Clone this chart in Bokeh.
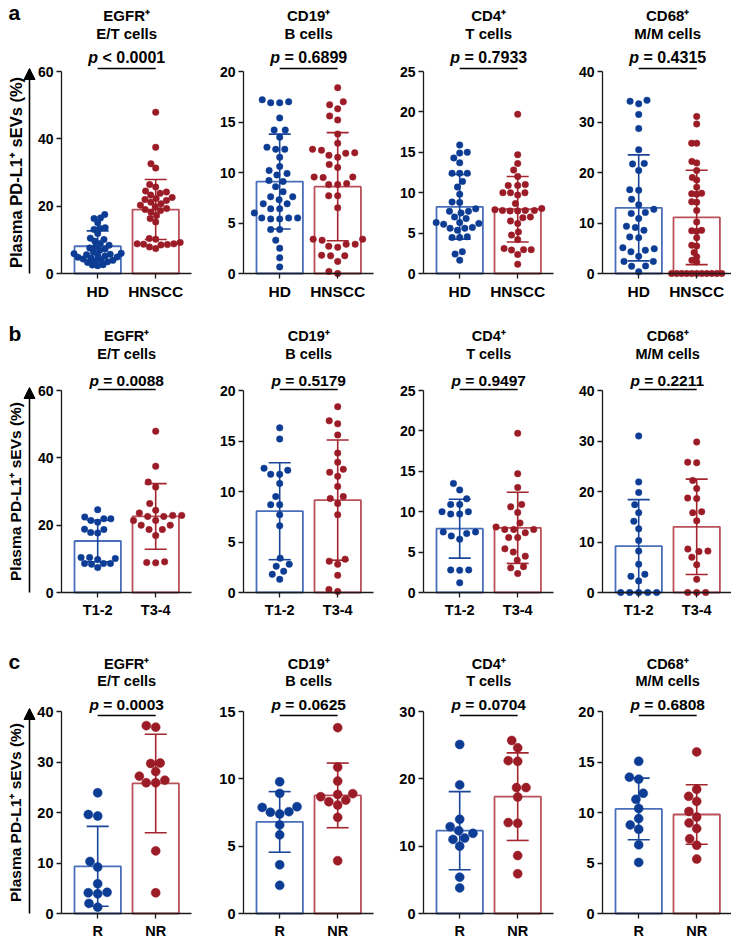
import math
from bokeh.plotting import figure
from bokeh.layouts import gridplot
from bokeh.models import Range1d, FixedTicker, Label, Arrow, NormalHead
from bokeh.embed import file_html
from bokeh.resources import INLINE

# ---------------- data ----------------
marker_titles = [["EGFR\u207a", "E/T cells"], ["CD19\u207a", "B cells"],
                 ["CD4\u207a", "T cells"], ["CD68\u207a", "M/M cells"]]
row_letters = ["a", "b", "c"]
row_groups = [["HD", "HNSCC"], ["T1-2", "T3-4"], ["R", "NR"]]
row_ymax = [[60, 20, 25, 40], [60, 20, 25, 40], [40, 15, 30, 20]]
row_ystep = [[20, 5, 5, 10], [20, 5, 5, 10], [10, 5, 10, 5]]
row_pvals = [["< 0.0001", "= 0.6899", "= 0.7933", "= 0.4315"],
             ["= 0.0088", "= 0.5179", "= 0.9497", "= 0.2211"],
             ["= 0.0003", "= 0.0625", "= 0.0704", "= 0.6808"]]
y_label = "Plasma PD-L1\u207a sEVs (%)"

# row a: HD vs HNSCC
a_egfr_hd = [17.5, 16.5, 16.3, 15.1, 13.6, 13.4, 13.1, 11.9, 10.5, 10.1, 9.6, 8.9, 8.4, 8.0,
             7.6, 7.3, 6.9, 6.4, 6.0, 5.9, 5.7, 5.6, 5.4, 5.2, 4.9, 4.8, 4.6, 4.3, 4.1, 3.9,
             3.8, 3.5, 3.3, 2.6, 2.5, 2.3]
a_egfr_hnscc = [47.9, 37.5, 32.6, 31.3, 26.4, 25.7, 24.5, 24.2, 23.8, 23.3, 22.6, 22.3, 22.0,
                21.7, 21.2, 20.7, 20.3, 19.8, 19.3, 19.0, 18.7, 18.2, 17.2, 16.3, 15.3, 10.4,
                10.2, 9.2, 8.8, 8.7, 8.6, 8.5, 8.8, 7.9, 7.4]
a_cd19_hd = [16.9, 17.0, 16.9, 17.2, 15.4, 14.2, 14.2, 13.5, 12.3, 12.5, 12.3, 11.5, 10.6, 10.2,
             9.75, 9.9, 9.1, 9.2, 8.6, 8.1, 7.6, 7.6, 7.3, 6.9, 6.9, 6.4, 6.4, 6.0, 5.5, 5.5,
             5.5, 5.4, 5.4, 4.35, 4.35, 3.3, 2.5, 1.55, 0.65]
a_cd19_hnscc = [18.4, 17.0, 16.7, 16.3, 15.6, 15.2, 13.8, 12.9, 12.3, 11.7, 11.95, 11.9, 12.2,
                11.5, 10.8, 10.5, 9.5, 9.55, 9.55, 8.9, 8.8, 8.8, 7.7, 7.7, 6.5, 3.4, 3.3, 3.4,
                2.9, 2.9, 2.6, 2.7, 1.75, 1.8, 1.75, 1.2, 0.2, 0.0]
a_cd4_hd = [15.9, 14.9, 15.0, 14.3, 13.7, 12.4, 12.4, 12.4, 11.4, 10.7, 9.8, 8.85, 8.8, 8.0,
            7.7, 7.7, 7.5, 7.0, 6.8, 6.3, 6.1, 6.2, 6.3, 5.6, 5.35, 5.6, 5.7, 4.45, 4.45, 4.55,
            2.7, 2.4, 1.65]
a_cd4_hnscc = [19.7, 14.7, 13.6, 12.8, 12.0, 10.9, 11.0, 10.9, 10.0, 10.0, 10.0, 9.7, 8.65,
               7.9, 7.8, 7.8, 7.75, 8.05, 7.8, 7.75, 6.9, 7.0, 6.5, 6.2, 5.15, 4.75, 4.2, 2.95,
               2.95, 3.1, 2.9, 2.35, 1.15]
a_cd68_hd = [34.3, 34.1, 33.6, 31.5, 28.7, 24.5, 21.7, 21.8, 20.4, 16.6, 16.5, 14.7, 13.6, 12.7,
             12.1, 11.9, 10.9, 9.35, 9.1, 8.55, 7.25, 7.1, 5.1, 4.9, 4.6, 4.3, 3.4, 2.4, 2.4,
             1.5, 1.45, 0.35]
a_cd68_hnscc = [31.1, 29.6, 25.8, 25.8, 22.2, 21.9, 20.4, 19.0, 18.5, 17.1, 15.9, 15.7, 15.8,
                14.2, 14.1, 12.5, 10.2, 8.55, 8.45, 8.35, 7.1, 5.6, 5.45, 4.15, 3.3, 2.6, 2.3,
                0, 0, 0, 0, 0, 0, 0, 0, 0, 0, 0]

# row b: T1-2 vs T3-4
b_egfr_t12 = [24.6, 22.4, 21.9, 21.4, 21.9, 20.9, 18.8, 17.7, 17.8, 18.7, 10.1, 10.4, 10.4,
              9.8, 8.6, 8.6, 8.4, 8.6, 7.4]
b_egfr_t34 = [47.9, 37.5, 32.8, 31.3, 26.4, 24.4, 22.9, 22.9, 22.6, 22.6, 23.6, 21.4, 21.4,
              20.0, 20.0, 18.7, 18.7, 16.9, 9.1, 8.9, 8.8]
b_cd19_t12 = [16.3, 15.2, 12.3, 12.1, 11.7, 11.7, 10.8, 9.5, 8.7, 8.7, 7.7, 6.6, 3.4, 2.8, 2.6,
              2.1, 1.8, 1.3]
b_cd19_t34 = [18.4, 17.0, 16.7, 15.6, 13.8, 12.9, 11.9, 12.2, 11.5, 10.5, 9.5, 9.3, 8.8, 7.7,
              3.1, 3.3, 2.8, 1.7, 0.3, 0.1]
b_cd4_t12 = [13.5, 12.7, 11.6, 10.9, 10.9, 10.0, 10.0, 9.7, 9.7, 7.5, 7.5, 7.0, 7.3, 6.6, 2.8,
             2.8, 2.75, 1.2]
b_cd4_t34 = [19.7, 14.7, 13.0, 10.9, 10.6, 9.9, 8.6, 8.1, 7.8, 7.8, 7.8, 7.4, 6.8, 6.8, 5.4,
             5.0, 4.5, 4.0, 3.2, 3.05, 2.35]
b_cd68_t12 = [31.0, 21.9, 19.8, 17.4, 15.8, 14.1, 12.6, 10.3, 8.2, 5.6, 3.2, 3.6, 2.3,
              0, 0, 0, 0, 0]
b_cd68_t34 = [29.8, 25.8, 25.7, 22.2, 20.6, 18.7, 18.6, 16.0, 15.8, 14.2, 8.6, 8.2, 8.1, 7.0,
              5.5, 2.6, 0, 0, 0]

# row c: R vs NR
c_egfr_r = [23.9, 19.6, 19.3, 10.3, 9.2, 5.9, 4.2, 4.1, 3.9, 2.0, 1.25]
c_egfr_nr = [36.9, 37.2, 29.7, 29.8, 28.1, 26.4, 25.9, 25.9, 27.2, 12.4, 4.1]
c_cd19_r = [9.78, 8.92, 7.93, 7.88, 7.52, 7.39, 7.56, 6.58, 5.84, 3.62, 2.09]
c_cd19_nr = [13.8, 10.87, 9.83, 8.9, 8.84, 8.42, 8.3, 8.05, 8.67, 7.14, 3.92]
c_cd4_r = [25.1, 19.1, 14.0, 12.9, 11.9, 11.2, 11.0, 12.3, 10.0, 5.4, 3.8]
c_cd4_nr = [25.7, 24.6, 22.7, 22.6, 18.7, 18.7, 17.3, 13.5, 13.4, 8.6, 5.9]
c_cd68_r = [15.07, 13.5, 13.3, 11.9, 11.3, 10.4, 9.4, 8.77, 8.34, 6.8, 5.06]
c_cd68_nr = [16.0, 12.3, 11.6, 11.1, 10.1, 9.56, 8.97, 8.41, 7.39, 6.76, 5.39]

# bar heights (mean) and error bars (SD)
a_means = [[8.1, 19.0], [9.1, 8.6], [8.25, 7.95], [13.0, 11.1]]
a_sds = [[4.55, 8.9], [4.7, 5.35], [4.0, 4.05], [10.5, 9.35]]
b_means = [[15.3, 22.6], [8.05, 9.15], [7.9, 8.0], [9.2, 13.0]]
b_sds = [[6.15, 9.75], [4.8, 5.95], [3.65, 4.4], [9.2, 9.45]]
c_means = [[9.35, 25.75], [6.8, 8.77], [12.3, 17.35], [10.35, 9.8]]
c_sds = [[7.9, 9.75], [2.25, 2.4], [5.8, 6.5], [3.05, 2.95]]

row_points = [
    [[a_egfr_hd, a_egfr_hnscc], [a_cd19_hd, a_cd19_hnscc], [a_cd4_hd, a_cd4_hnscc], [a_cd68_hd, a_cd68_hnscc]],
    [[b_egfr_t12, b_egfr_t34], [b_cd19_t12, b_cd19_t34], [b_cd4_t12, b_cd4_t34], [b_cd68_t12, b_cd68_t34]],
    [[c_egfr_r, c_egfr_nr], [c_cd19_r, c_cd19_nr], [c_cd4_r, c_cd4_nr], [c_cd68_r, c_cd68_nr]],
]
row_means = [a_means, b_means, c_means]
row_sds = [a_sds, b_sds, c_sds]

# ---------------- style / layout ----------------
FONT = "Liberation Sans"
DOT_COLORS = ["#0c3c94", "#9b1c27"]
BAR_COLORS = ["#4a6fba", "#b9505a"]
ERR_COLORS = ["#1a4699", "#a3262f"]
AXIS_COLOR = "#1a1a1a"

PXX = 58.0                 # px per category unit
XA = -0.4 - 13 / PXX       # where the y axis sits (data x)
XE = 1.4 + 13 / PXX        # end of the x axis line
DATA_H = 202

col_width = [203, 180, 179, 169]
col_axis_px = [61, 40, 40, 40]          # y-axis position inside each figure (px)
row_height = [320, 325, 297]
row_above = [71, 70, 66]                # px from figure top to the top tick
row_title_off = [(56, 38), (55, 37), (48, 31)]
row_p_off = [14, 10, 7]
row_line_off = [3, 1, -4]
row_letter_off = [59, 57, 50]
row_dot = [6.5, 6.5, 9.0]
row_D = [9.0, 9.0, 9.5]
row_title_fs = [15, 14.5, 14.5]
row_p_fs = [16, 15.5, 15.5]
row_tick_fs = [14, 14, 14.5]
row_cat_fs = [15.5, 14.5, 14.5]
row_ylab_fs = [16.5, 15.5, 15.5]

CHAR_W = {"0": 556, "1": 556, "2": 556, "3": 556, "4": 556, "5": 556, "6": 556, "7": 556,
          "8": 556, "9": 556, ".": 278, " ": 278, "=": 584, "<": 584, "p": 611}


def text_w(s, fs):
    return sum(CHAR_W.get(ch, 556) for ch in s) / 1000.0 * fs


def swarm(vals, ymax, D, maxw=26.0):
    """Beeswarm offsets (in data x units) so dots do not overlap."""
    pyy = DATA_H / ymax
    order = sorted(range(len(vals)), key=lambda i: vals[i])
    d = D
    while True:
        placed = []
        xs = [0.0] * len(vals)
        for i in order:
            y = vals[i] * pyy
            ivs = []
            for (xj, yj) in placed:
                dyy = abs(y - yj)
                if dyy < d:
                    w = math.sqrt(d * d - dyy * dyy)
                    ivs.append((xj - w, xj + w))
            cands = [0.0] + [a for a, b in ivs] + [b for a, b in ivs]
            cands.sort(key=lambda c: (abs(c), c))
            x = 0.0
            for c in cands:
                if all(not (a + 1e-6 < c < b - 1e-6) for a, b in ivs):
                    x = c
                    break
            placed.append((x, y))
            xs[i] = x
        if max(abs(v) for v in xs) <= maxw or d < 3:
            return [v / PXX for v in xs]
        d *= 0.92


def make_panel(r, c):
    ymax = row_ymax[r][c]
    pyy = DATA_H / ymax

    def dy(px):
        return px / pyy

    W = col_width[c]
    H = row_height[r]
    left = col_axis_px[c]
    above = row_above[r]
    below = H - above - DATA_H
    p = figure(width=W, height=H,
               x_range=Range1d(XA - left / PXX, XA + (W - left) / PXX),
               y_range=Range1d(-dy(below), ymax + dy(above)),
               output_backend="svg", toolbar_location=None, tools="",
               min_border=0, min_border_left=0, min_border_right=0,
               min_border_top=0, min_border_bottom=0)
    p.outline_line_color = None
    p.xgrid.visible = False
    p.ygrid.visible = False
    p.background_fill_color = "white"
    p.border_fill_color = "white"

    # axes (placed at fixed data locations inside the frame)
    yax = p.yaxis[0]
    yax.fixed_location = XA
    yax.bounds = (0, ymax)
    yax.ticker = FixedTicker(ticks=list(range(0, ymax + 1, row_ystep[r][c])))
    xax = p.xaxis[0]
    xax.fixed_location = 0
    xax.bounds = (XA, XE)
    xax.ticker = FixedTicker(ticks=[0, 1])
    xax.major_label_overrides = {0: row_groups[r][0], 1: row_groups[r][1]}
    for ax, fs, so in ((yax, row_tick_fs[r], 3), (xax, row_cat_fs[r], 4)):
        ax.axis_line_color = AXIS_COLOR
        ax.axis_line_width = 1.3
        ax.major_tick_line_color = AXIS_COLOR
        ax.major_tick_line_width = 1.3
        ax.major_tick_out = 5
        ax.major_tick_in = 0
        ax.minor_tick_line_color = None
        ax.major_label_text_font = FONT
        ax.major_label_text_font_style = "bold"
        ax.major_label_text_font_size = f"{fs}px"
        ax.major_label_text_color = "black"
        ax.major_label_standoff = so

    means = row_means[r][c]
    sds = row_sds[r][c]
    # bars
    p.vbar(x=[0, 1], top=means, width=0.8, bottom=0, fill_color="white",
           line_color=BAR_COLORS, line_width=1.8)
    # error bars (mean +/- SD)
    cw = 11.0 / PXX
    for g in range(2):
        lo = max(means[g] - sds[g], 0)
        hi = means[g] + sds[g]
        p.segment(x0=[g, g - cw, g - cw], y0=[lo, hi, lo], x1=[g, g + cw, g + cw], y1=[hi, hi, lo],
                  line_color=ERR_COLORS[g], line_width=1.6)
    # individual points
    for g in range(2):
        vals = row_points[r][c][g]
        offs = swarm(vals, ymax, row_D[r])
        p.scatter(x=[g + o for o in offs], y=vals, size=row_dot[r], marker="circle",
                  fill_color=DOT_COLORS[g], line_color=DOT_COLORS[g], line_width=0.5)

    # titles
    t1, t2 = marker_titles[c]
    o1, o2 = row_title_off[r]
    for txt, off in ((t1, o1), (t2, o2)):
        p.add_layout(Label(x=0.5, y=ymax + dy(off), text=txt, text_align="center",
                           text_baseline="middle", text_font=FONT, text_font_style="bold",
                           text_font_size=f"{row_title_fs[r]}px", text_color="black"))
    # p value with comparison bar
    pfs = row_p_fs[r]
    rest = row_pvals[r][c]
    wp = text_w("p ", pfs)
    wtot = wp + text_w(rest, pfs)
    yp = ymax + dy(row_p_off[r])
    p.add_layout(Label(x=0.5, y=yp, x_offset=-wtot / 2, text="p", text_align="left",
                       text_baseline="middle", text_font=FONT, text_font_style="bold italic",
                       text_font_size=f"{pfs}px", text_color="black"))
    p.add_layout(Label(x=0.5, y=yp, x_offset=-wtot / 2 + wp, text=rest, text_align="left",
                       text_baseline="middle", text_font=FONT, text_font_style="bold",
                       text_font_size=f"{pfs}px", text_color="black"))
    yl = ymax + dy(row_line_off[r])
    p.segment(x0=[0], y0=[yl], x1=[1], y1=[yl], line_color="black", line_width=1.6)

    if c == 0:
        p.add_layout(Label(x=XA - 53 / PXX, y=ymax + dy(row_letter_off[r]), text=row_letters[r],
                           text_align="left", text_baseline="middle", text_font=FONT,
                           text_font_style="bold", text_font_size="21px", text_color="black"))
        p.add_layout(Label(x=XA - 46 / PXX, y=ymax / 2, text=y_label, angle=math.pi / 2,
                           text_align="center", text_baseline="middle", text_font=FONT,
                           text_font_style="bold", text_font_size=f"{row_ylab_fs[r]}px",
                           text_color="black"))
        xa = XA - 32 / PXX
        p.add_layout(Arrow(end=NormalHead(size=11, fill_color="black", line_color="black",
                                          line_width=1),
                           x_start=xa, y_start=0, x_end=xa, y_end=ymax + dy(3),
                           line_color="black", line_width=1.6))
    return p


rows = [[make_panel(r, c) for c in range(4)] for r in range(3)]
grid = gridplot(rows, toolbar_location=None)

open("out.html", "w").write(file_html(grid, INLINE))
